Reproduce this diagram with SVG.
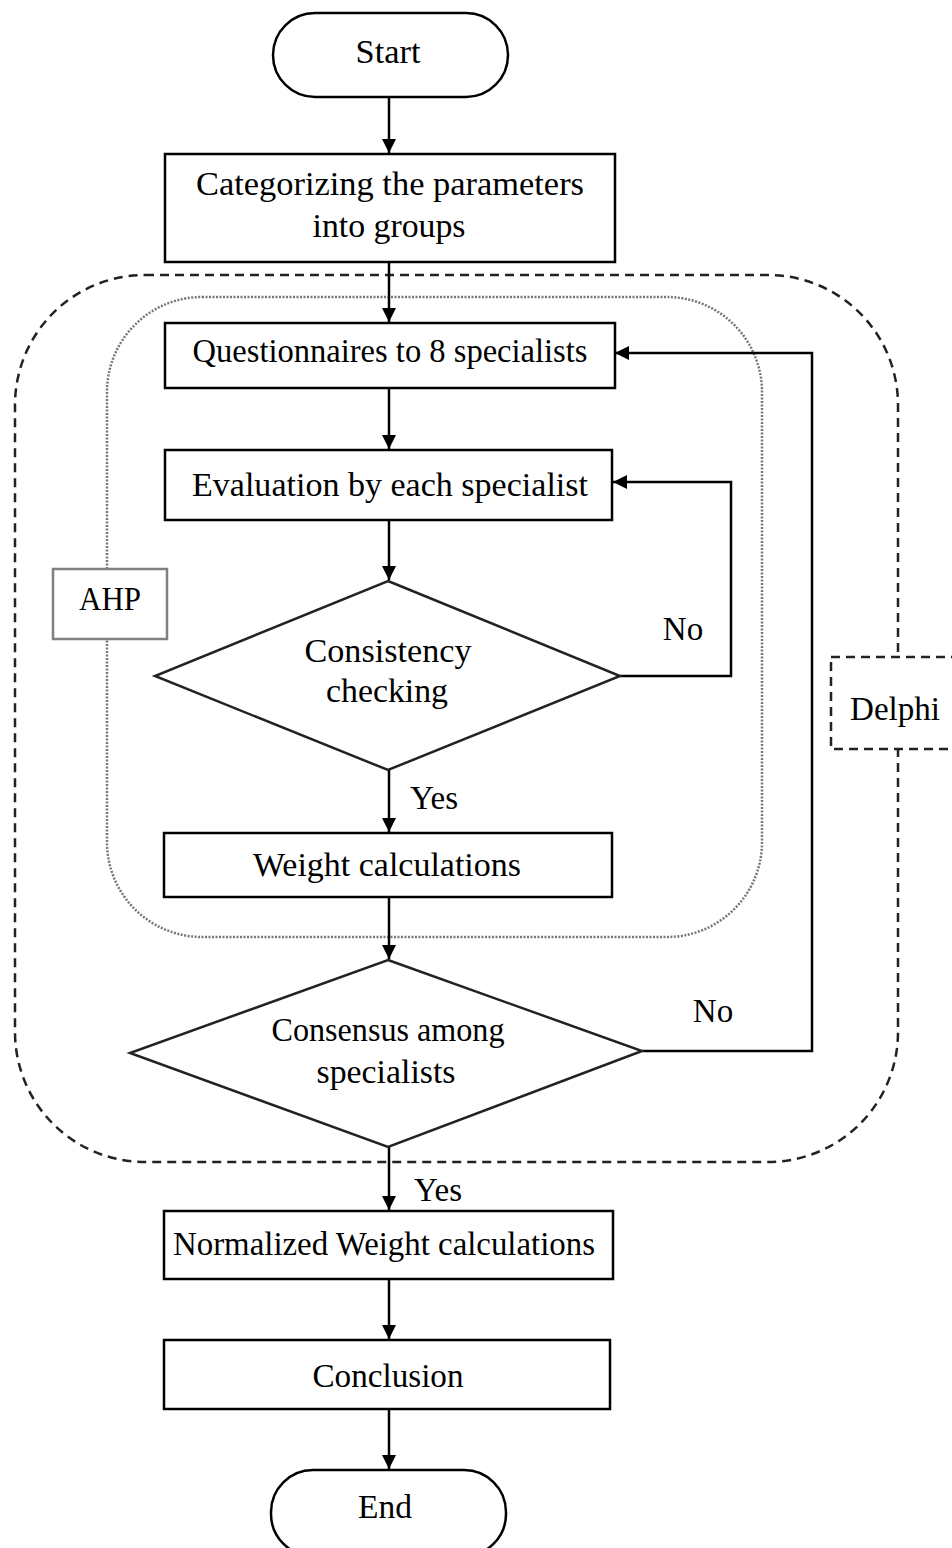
<svg xmlns="http://www.w3.org/2000/svg" width="952" height="1548" viewBox="0 0 952 1548">
<style>
.b{fill:#fff;stroke:#000;stroke-width:2.5}
.t{font-family:"Liberation Serif","Times New Roman",serif;font-size:33px;fill:#000;text-anchor:middle}
.c{fill:none;stroke:#000;stroke-width:2.5}
</style>
<defs>
<marker id="ah" markerUnits="userSpaceOnUse" markerWidth="16" markerHeight="14" refX="14" refY="7" orient="auto">
<path d="M0,0 L14,7 L0,14 Z" fill="#000"/>
</marker>
</defs>
<rect width="952" height="1548" fill="#fff"/>
<g id="delphi-frame">
<rect x="15" y="275" width="883" height="887" rx="130" ry="130" fill="none" stroke="#222" stroke-width="2.5" stroke-dasharray="9 6"/>
</g>
<g id="ahp-frame">
<rect x="107" y="297" width="655" height="640" rx="95" ry="95" fill="none" stroke="#777" stroke-width="2.5" stroke-dasharray="2 1.5"/>
</g>
<g id="connectors">
<line class="c" x1="389" y1="97" x2="389" y2="153" marker-end="url(#ah)"/>
<line class="c" x1="389" y1="262" x2="389" y2="322" marker-end="url(#ah)"/>
<line class="c" x1="389" y1="388" x2="389" y2="449" marker-end="url(#ah)"/>
<line class="c" x1="389" y1="520" x2="389" y2="580" marker-end="url(#ah)"/>
<line class="c" x1="389" y1="770" x2="389" y2="832" marker-end="url(#ah)"/>
<line class="c" x1="389" y1="897" x2="389" y2="959" marker-end="url(#ah)"/>
<line class="c" x1="389" y1="1147" x2="389" y2="1210" marker-end="url(#ah)"/>
<line class="c" x1="389" y1="1279" x2="389" y2="1339" marker-end="url(#ah)"/>
<line class="c" x1="389" y1="1409" x2="389" y2="1469" marker-end="url(#ah)"/>
<polyline class="c" points="620,676 731,676 731,482 613,482" marker-end="url(#ah)"/>
<polyline class="c" points="642,1051 812,1051 812,353 615,353" marker-end="url(#ah)"/>
<text class="t" x="683" y="640">No</text>
<text class="t" x="713" y="1022">No</text>
<text class="t" x="434" y="809">Yes</text>
<text class="t" x="438" y="1201">Yes</text>
</g>
<g id="start">
<rect class="b" x="273" y="13" width="235" height="84" rx="42" ry="42"/>
<text class="t" x="388" y="63" textLength="65" lengthAdjust="spacingAndGlyphs">Start</text>
</g>
<g id="categorize">
<rect class="b" x="165" y="154" width="450" height="108"/>
<text class="t" x="390" y="195" textLength="388" lengthAdjust="spacingAndGlyphs">Categorizing the parameters</text>
<text class="t" x="389" y="237" textLength="153" lengthAdjust="spacingAndGlyphs">into groups</text>
</g>
<g id="questionnaires">
<rect class="b" x="165" y="323" width="450" height="65"/>
<text class="t" x="390" y="362" textLength="395" lengthAdjust="spacingAndGlyphs">Questionnaires to 8 specialists</text>
</g>
<g id="evaluation">
<rect class="b" x="165" y="450" width="447" height="70"/>
<text class="t" x="390" y="496" textLength="396" lengthAdjust="spacingAndGlyphs">Evaluation by each specialist</text>
</g>
<g id="consistency">
<polygon points="388,581 620,676 388,770 155,676" fill="#fff" stroke="#222" stroke-width="2.5"/>
<text class="t" x="388" y="662" textLength="167" lengthAdjust="spacingAndGlyphs">Consistency</text>
<text class="t" x="387" y="702" textLength="122" lengthAdjust="spacingAndGlyphs">checking</text>
</g>
<g id="weight">
<rect class="b" x="164" y="833" width="448" height="64"/>
<text class="t" x="387" y="876" textLength="268" lengthAdjust="spacingAndGlyphs">Weight calculations</text>
</g>
<g id="consensus">
<polygon points="388,960 642,1051 388,1147 130,1053" fill="#fff" stroke="#222" stroke-width="2.5"/>
<text class="t" x="388" y="1041" textLength="233" lengthAdjust="spacingAndGlyphs">Consensus among</text>
<text class="t" x="386" y="1083" textLength="139" lengthAdjust="spacingAndGlyphs">specialists</text>
</g>
<g id="normalized">
<rect class="b" x="164" y="1211" width="449" height="68"/>
<text class="t" x="384" y="1255" textLength="422" lengthAdjust="spacingAndGlyphs">Normalized Weight calculations</text>
</g>
<g id="conclusion">
<rect class="b" x="164" y="1340" width="446" height="69"/>
<text class="t" x="388" y="1387" textLength="151" lengthAdjust="spacingAndGlyphs">Conclusion</text>
</g>
<g id="end">
<rect class="b" x="271" y="1470" width="235" height="86" rx="42" ry="42"/>
<text class="t" x="385" y="1518" textLength="54" lengthAdjust="spacingAndGlyphs">End</text>
</g>
<g id="ahp-label">
<rect x="53" y="569" width="114" height="70" fill="#fff" stroke="#808080" stroke-width="2.5"/>
<text class="t" x="110" y="610" textLength="62" lengthAdjust="spacingAndGlyphs">AHP</text>
</g>
<g id="delphi-label">
<rect x="831" y="657" width="140" height="92" fill="#fff" stroke="#222" stroke-width="2.5" stroke-dasharray="9 6"/>
<text class="t" x="895" y="720" textLength="90" lengthAdjust="spacingAndGlyphs">Delphi</text>
</g>
</svg>
